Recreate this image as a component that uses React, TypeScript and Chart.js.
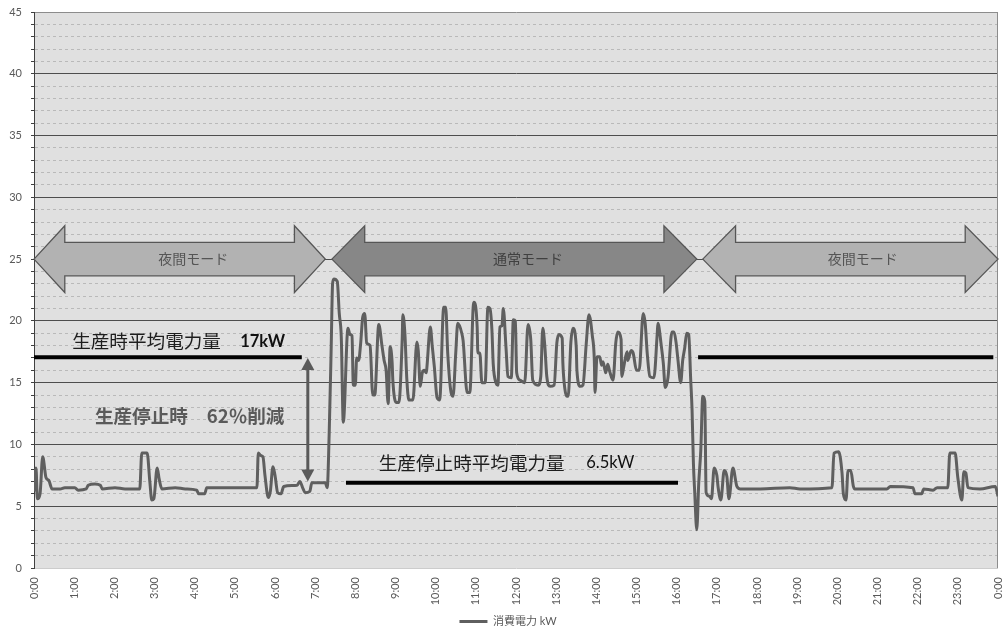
import { useEffect, useRef } from 'react';
import { Chart, registerables } from 'chart.js';

Chart.register(...registerables);

// ---- data: [minutes after 0:00, kW] ----
const NIGHT_AM: [number, number][] = [
  [0, 8.0], [1.5, 6.3], [3, 8.1], [5, 5.6], [9, 6.0], [13, 9.0], [18, 7.3], [22, 7.1], [27, 6.4],
  [39, 6.4], [46, 6.5], [61, 6.5], [66, 6.3], [78, 6.4], [81, 6.7], [91, 6.8], [99, 6.7], [102, 6.4],
  [121, 6.5], [136, 6.4], [158, 6.4], [161, 9.3], [169, 9.3], [173, 7.0], [176, 5.5], [179, 5.6],
  [184, 8.1], [187, 7.2], [191, 6.4], [211, 6.5], [226, 6.4], [243, 6.3], [246, 6.0], [255, 6.0],
  [258, 6.5], [333, 6.5], [335, 9.3], [339, 9.1], [342, 9.0], [345, 7.5], [350, 5.7], [353, 6.2],
  [357, 8.2], [360, 7.5], [364, 6.1], [369, 6.0], [373, 6.6], [393, 6.7], [397, 7.0], [402, 6.4],
  [405, 6.1], [412, 6.2], [415, 6.9], [435, 6.9], [438, 6.5], [441, 11.0], [444, 18.0], [446, 23.0],
  [448, 23.4], [453, 23.2], [456, 20.6], [459, 18.7], [462, 11.8],
];

const DAYTIME: [number, number][] = [
  [469, 19.4], [472, 18.9], [475, 18.8], [477, 14.8], [480, 14.8], [482, 17.0], [485, 16.8], [488, 18.2],
  [491, 20.3], [494, 20.6], [497, 18.2], [502, 18.0], [506, 14.0], [509, 14.0], [515, 19.7], [520, 17.9],
  [523, 16.8], [526, 16.0], [529, 13.3], [532, 17.9], [535, 16.6], [536, 15.2], [541, 13.4], [545, 13.4],
  [550, 18.5], [551, 20.5], [554, 19.0], [557, 15.2], [560, 13.6], [566, 13.6], [572, 18.3], [574, 17.6],
  [577, 14.7], [580, 15.8], [583, 16.0], [586, 15.8], [587, 16.3], [592, 19.5], [595, 17.9], [598, 16.3],
  [602, 13.8], [606, 13.6], [612, 21.1], [615, 21.1], [618, 17.4], [623, 14.2], [626, 13.9], [630, 17.4],
  [633, 19.8], [639, 19.0], [641, 18.4], [647, 14.2], [651, 14.2], [656, 21.1], [657, 21.5], [662, 19.5],
  [663, 17.4], [666, 17.4], [669, 15.0], [674, 15.0], [678, 21.1], [681, 21.0], [684, 19.3], [686, 16.5],
  [690, 15.0], [693, 14.8], [696, 19.5], [699, 19.6], [701, 21.0], [705, 17.9], [708, 15.5], [713, 15.4],
  [716, 20.1], [719, 20.0], [721, 15.8], [726, 15.2], [733, 15.0], [738, 19.7], [742, 18.5], [745, 15.2],
  [753, 14.8], [757, 15.5], [760, 19.4], [763, 18.0], [766, 15.5], [771, 14.7], [777, 14.8], [781, 18.2],
  [784, 18.9], [789, 18.6], [790, 16.6], [793, 14.5], [796, 13.9], [798, 13.9], [802, 18.3], [805, 19.4],
  [810, 17.9], [811, 16.0], [816, 14.7], [820, 14.8], [825, 18.2], [829, 20.5], [834, 18.8], [837, 16.8],
  [838, 14.2], [841, 17.1], [845, 17.1], [848, 16.4], [850, 16.7], [854, 15.8], [857, 16.5], [860, 15.9],
  [865, 15.2], [869, 18.2], [872, 19.1], [877, 18.5], [878, 15.5], [881, 16.3], [886, 17.5], [887, 16.8],
  [892, 17.6], [895, 17.4], [900, 16.0], [904, 16.0], [910, 20.6], [913, 19.8], [916, 17.4], [920, 15.5],
  [926, 15.4], [931, 19.0], [932, 19.8], [937, 18.0], [940, 16.6], [943, 14.6], [947, 15.4], [953, 19.1],
  [956, 19.1], [959, 18.3], [962, 16.8], [966, 15.0], [969, 16.8], [972, 17.8], [975, 19.0], [978, 18.9],
  [981, 15.2], [983, 12.8],
];

const NIGHT_PM: [number, number][] = [
  [985, 8.5], [987, 6.1], [990, 3.1], [993, 6.9], [996, 9.5], [999, 13.9], [1002, 13.5], [1004, 6.1],
  [1009, 5.8], [1012, 5.6], [1016, 8.1], [1020, 7.5], [1022, 6.5], [1026, 5.5], [1031, 7.9], [1035, 7.4],
  [1038, 5.6], [1044, 8.1], [1050, 6.6], [1055, 6.4], [1085, 6.4], [1129, 6.5], [1144, 6.4], [1192, 6.5],
  [1195, 9.3], [1202, 9.4], [1207, 7.7], [1209, 6.0], [1213, 5.5], [1216, 7.9], [1220, 7.9], [1224, 6.6],
  [1226, 6.4], [1274, 6.4], [1279, 6.6], [1313, 6.5], [1316, 6.0], [1326, 6.0], [1329, 6.4], [1343, 6.3],
  [1349, 6.5], [1365, 6.5], [1368, 9.3], [1376, 9.3], [1380, 7.3], [1386, 5.5], [1389, 7.8], [1392, 7.7],
  [1395, 6.5], [1413, 6.4], [1436, 6.6], [1440, 5.8],
];

const SERIES_LABEL = '消費電力 kW';

const X_TICK_LABELS = [
  '0:00', '1:00', '2:00', '3:00', '4:00', '5:00', '6:00', '7:00', '8:00', '9:00', '10:00', '11:00',
  '12:00', '13:00', '14:00', '15:00', '16:00', '17:00', '18:00', '19:00', '20:00', '21:00', '22:00',
  '23:00', '0:00',
];
const Y_TICK_LABELS = ['0', '5', '10', '15', '20', '25', '30', '35', '40', '45'];

// ---- annotations (data coordinates: minutes, kW) ----
const MODE_ARROWS = [
  { from: 0, to: 435, head: 46, label: '夜間モード', labelAt: 238, fill: '#b2b2b2', text: '#555555' },
  { from: 445, to: 990, head: 49, label: '通常モード', labelAt: 738, fill: '#878787', text: '#404040' },
  { from: 999, to: 1440, head: 49, label: '夜間モード', labelAt: 1238, fill: '#b2b2b2', text: '#555555' },
];
const ARROW_LEVEL = 25;
const ARROW_SHAFT_HALF = 1.35;
const ARROW_HEAD_HALF = 2.7;

const AVG_LINES = [
  { from: 0, to: 400, level: 17.05 },
  { from: 992, to: 1433, level: 17.05 },
  { from: 466, to: 962, level: 6.9 },
];
const REDUCTION_ARROW = { at: 409, top: 17.0, bottom: 7.0 };

const FONT_LATIN = 'Lato, "Noto Sans CJK JP", sans-serif';
const FONT_CJK = '"Noto Sans CJK JP", sans-serif';

const NOTES = [
  { text: '生産時平均電力量', x: 57, y: 18.35, font: `18.6px ${FONT_CJK}`, color: '#1e1e1e' },
  { text: '17kW', x: 308, y: 18.35, font: `bold 16.5px ${FONT_LATIN}`, color: '#111111' },
  { text: '生産停止時', x: 91, y: 12.3, font: `bold 18.6px ${FONT_CJK}`, color: '#5a5a5a' },
  { text: '62％削減', x: 258, y: 12.3, font: `bold 18.6px ${FONT_CJK}`, color: '#5a5a5a' },
  { text: '生産停止時平均電力量', x: 515, y: 8.5, font: `18.6px ${FONT_CJK}`, color: '#1e1e1e' },
  { text: '6.5kW', x: 825, y: 8.5, font: `16.5px ${FONT_LATIN}`, color: '#111111' },
];

const backgroundPlugin = {
  id: 'plotBackground',
  afterLayout(chart: any) {
    // nudge the legend to sit under the plot centre like the original
    if (chart.legend) {
      chart.legend.left += 9;
      chart.legend.right += 9;
    }
  },
  beforeDraw(chart: any) {
    const { ctx, chartArea: a } = chart;
    ctx.save();
    ctx.fillStyle = '#e0e0e0';
    ctx.fillRect(a.left, a.top, a.right - a.left, a.bottom - a.top);
    ctx.restore();
  },
  beforeDatasetsDraw(chart: any) {
    const { ctx, chartArea: a } = chart;
    ctx.save();
    ctx.strokeStyle = '#8c8c8c';
    ctx.lineWidth = 1;
    ctx.beginPath();
    ctx.moveTo(Math.round(a.right) - 0.5, a.top);
    ctx.lineTo(Math.round(a.right) - 0.5, a.bottom);
    ctx.stroke();
    ctx.restore();
  },
};

const annotationPlugin = {
  id: 'annotations',
  afterDatasetsDraw(chart: any) {
    const { ctx } = chart;
    const xs = chart.scales.x;
    const ys = chart.scales.y;
    const px = (v: number) => xs.getPixelForValue(v);
    const py = (v: number) => ys.getPixelForValue(v);
    ctx.save();

    // block double arrows
    for (const a of MODE_ARROWS) {
      const x0 = px(a.from), x1 = px(a.to);
      const h0 = px(a.from + a.head), h1 = px(a.to - a.head);
      const yc = py(ARROW_LEVEL);
      const st = py(ARROW_LEVEL + ARROW_SHAFT_HALF), sb = py(ARROW_LEVEL - ARROW_SHAFT_HALF);
      const ht = py(ARROW_LEVEL + ARROW_HEAD_HALF), hb = py(ARROW_LEVEL - ARROW_HEAD_HALF);
      ctx.beginPath();
      ctx.moveTo(x0, yc);
      ctx.lineTo(h0, ht);
      ctx.lineTo(h0, st);
      ctx.lineTo(h1, st);
      ctx.lineTo(h1, ht);
      ctx.lineTo(x1, yc);
      ctx.lineTo(h1, hb);
      ctx.lineTo(h1, sb);
      ctx.lineTo(h0, sb);
      ctx.lineTo(h0, hb);
      ctx.closePath();
      ctx.fillStyle = a.fill;
      ctx.fill();
      ctx.strokeStyle = '#565656';
      ctx.lineWidth = 1.3;
      ctx.lineJoin = 'miter';
      ctx.stroke();
      ctx.fillStyle = a.text;
      ctx.font = `14px ${FONT_CJK}`;
      ctx.textAlign = 'center';
      ctx.textBaseline = 'middle';
      ctx.fillText(a.label, px(a.labelAt), yc);
    }

    // average lines
    ctx.strokeStyle = '#000000';
    ctx.lineWidth = 4;
    ctx.lineCap = 'butt';
    for (const l of AVG_LINES) {
      ctx.beginPath();
      ctx.moveTo(px(l.from), py(l.level));
      ctx.lineTo(px(l.to), py(l.level));
      ctx.stroke();
    }

    // reduction arrow
    const ax = px(REDUCTION_ARROW.at);
    const at = py(REDUCTION_ARROW.top);
    const ab = py(REDUCTION_ARROW.bottom);
    const headLen = 12, headW = 6.5;
    ctx.strokeStyle = '#5a5a5a';
    ctx.fillStyle = '#5a5a5a';
    ctx.lineWidth = 3;
    ctx.beginPath();
    ctx.moveTo(ax, at + headLen - 1);
    ctx.lineTo(ax, ab - headLen + 1);
    ctx.stroke();
    ctx.beginPath();
    ctx.moveTo(ax, at);
    ctx.lineTo(ax - headW, at + headLen);
    ctx.lineTo(ax + headW, at + headLen);
    ctx.closePath();
    ctx.fill();
    ctx.beginPath();
    ctx.moveTo(ax, ab);
    ctx.lineTo(ax - headW, ab - headLen);
    ctx.lineTo(ax + headW, ab - headLen);
    ctx.closePath();
    ctx.fill();

    // notes
    ctx.textAlign = 'left';
    ctx.textBaseline = 'middle';
    for (const n of NOTES) {
      ctx.font = n.font;
      ctx.fillStyle = n.color;
      ctx.fillText(n.text, px(n.x), py(n.y));
    }
    ctx.restore();
  },
};

export default function App() {
  const ref = useRef<HTMLCanvasElement>(null);

  useEffect(() => {
    document.body.style.margin = '0';
    const readings = [...NIGHT_AM, ...DAYTIME, ...NIGHT_PM];
    const chart = new Chart(ref.current as HTMLCanvasElement, {
      type: 'line',
      data: {
        datasets: [
          {
            label: SERIES_LABEL,
            data: readings.map(([x, y]) => ({ x, y })),
            borderColor: '#5f5f5f',
            backgroundColor: '#5f5f5f',
            borderWidth: 3,
            pointRadius: 0,
            cubicInterpolationMode: 'monotone',
            borderJoinStyle: 'round',
          } as any,
        ],
      },
      options: {
        responsive: false,
        maintainAspectRatio: false,
        animation: false,
        layout: { padding: { left: 0, right: 6, top: 12, bottom: -7 } },
        plugins: {
          legend: {
            position: 'bottom',
            labels: {
              usePointStyle: true,
              pointStyle: 'line',
              pointStyleWidth: 28,
              boxHeight: 11,
              font: { family: FONT_LATIN, size: 11 },
              color: '#595959',
              padding: 4,
            },
          },
          tooltip: { enabled: false },
        },
        scales: {
          x: {
            type: 'linear',
            min: 0,
            max: 1440,
            afterFit: (s: any) => {
              s.height = 44;
              s.paddingLeft = 0;
              s.paddingRight = 0;
            },
            ticks: {
              stepSize: 60,
              autoSkip: false,
              maxRotation: 90,
              minRotation: 90,
              padding: 9,
              color: '#595959',
              font: { family: FONT_LATIN, size: 11 },
              callback: (v: any) => X_TICK_LABELS[Math.round(Number(v) / 60)] ?? '',
            },
            grid: { display: false, drawTicks: false },
            border: { display: false },
          },
          y: {
            min: 0,
            max: 45,
            afterFit: (s: any) => {
              s.width = 34;
              s.paddingTop = 0;
              s.paddingBottom = 0;
            },
            ticks: {
              stepSize: 1,
              autoSkip: false,
              padding: 9,
              color: '#595959',
              font: { family: FONT_LATIN, size: 11 },
              callback: (v: any) => {
                const n = Number(v);
                return n % 5 === 0 ? Y_TICK_LABELS[n / 5] : '';
              },
            },
            grid: {
              color: (c: any) => {
                const v = c.tick ? c.tick.value : 1;
                if (v === 0) return '#cccccc';
                if (v === 45) return '#8c8c8c';
                return v % 5 === 0 ? '#4d4d4d' : '#b9b9b9';
              },
              lineWidth: 1,
              tickLength: 3,
              tickColor: '#404040',
            },
            border: {
              color: '#404040',
              width: 1,
              dash: (c: any) => (c.tick && c.tick.value % 5 !== 0 ? [3, 3] : []),
            } as any,
          },
        },
      } as any,
      plugins: [backgroundPlugin, annotationPlugin],
    });
    return () => chart.destroy();
  }, []);

  return (
    <div style={{ width: 1004, height: 630 }}>
      <canvas ref={ref} width={1004} height={630} style={{ display: 'block' }} />
    </div>
  );
}
